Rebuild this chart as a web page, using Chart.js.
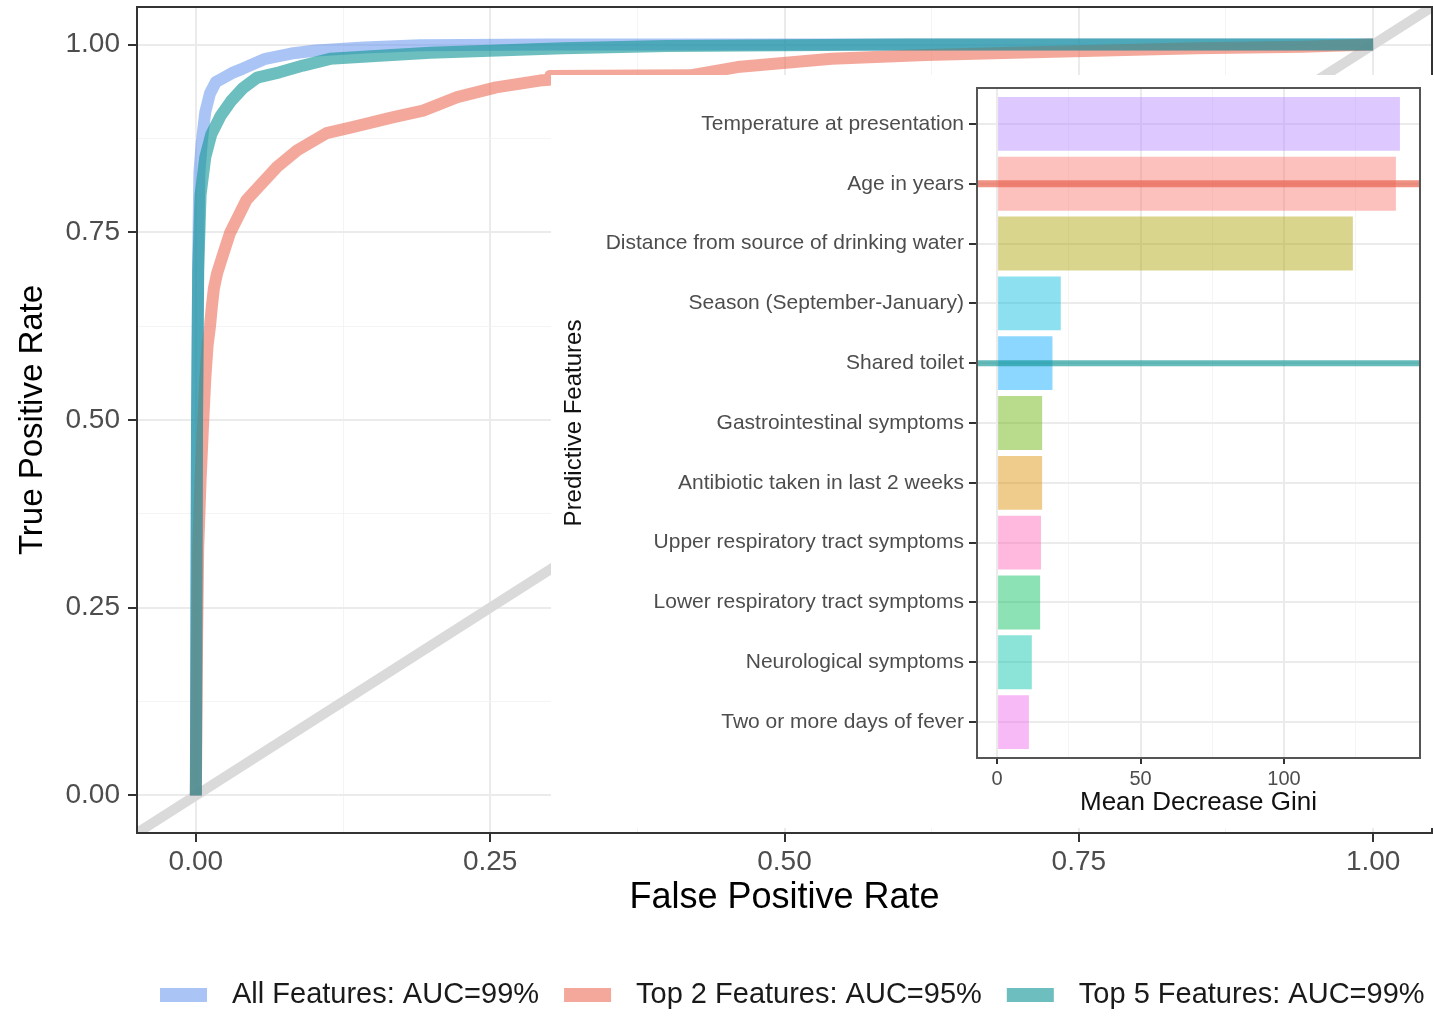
<!DOCTYPE html>
<html>
<head>
<meta charset="utf-8">
<script src="https://cdn.jsdelivr.net/npm/chart.js@4.4.1/dist/chart.umd.min.js"></script>
<style>
  html, body { margin: 0; padding: 0; background: #fff; }
  #wrap { position: relative; width: 1434px; height: 1016px; }
  #roc { position: absolute; left: 0; top: 0; }
  #gini { position: absolute; left: 551px; top: 75px; background: #fff; }
</style>
</head>
<body>
<div id="wrap">
  <canvas id="roc" width="1434" height="1016"></canvas>
  <canvas id="gini" width="883" height="753"></canvas>
</div>
<script>
const FONT = "'Liberation Sans', Arial, sans-serif";

// ROC curves
const allFpr = [0, 0.001, 0.002, 0.003, 0.005, 0.008, 0.012, 0.017, 0.024, 0.032, 0.040, 0.059, 0.081, 0.102, 0.143, 0.190, 0.300, 0.500, 1.000];
const allTpr = [0, 0.50, 0.72, 0.83, 0.87, 0.91, 0.935, 0.95, 0.956, 0.963, 0.968, 0.981, 0.988, 0.992, 0.996, 0.999, 1.0, 1.0, 1.0];

const top2Fpr = [0, 0.001, 0.002, 0.004, 0.006, 0.008, 0.010, 0.012, 0.0135, 0.0153, 0.018, 0.022, 0.029, 0.043, 0.069, 0.086, 0.111, 0.133, 0.167, 0.193, 0.222, 0.255, 0.292, 0.300, 0.301, 0.420, 0.460, 0.540, 0.620, 0.720, 0.850, 0.940, 1.000];
const top2Tpr = [0, 0.20, 0.33, 0.42, 0.49, 0.555, 0.60, 0.625, 0.65, 0.675, 0.695, 0.715, 0.749, 0.793, 0.837, 0.859, 0.882, 0.890, 0.903, 0.912, 0.930, 0.943, 0.952, 0.953, 0.958, 0.959, 0.970, 0.981, 0.986, 0.990, 0.995, 0.997, 1.000];

const top5Fpr = [0, 0.001, 0.002, 0.004, 0.008, 0.013, 0.021, 0.030, 0.040, 0.052, 0.071, 0.091, 0.114, 0.156, 0.199, 0.256, 0.312, 0.400, 0.600, 1.000];
const top5Tpr = [0, 0.50, 0.70, 0.80, 0.85, 0.88, 0.905, 0.925, 0.942, 0.956, 0.963, 0.972, 0.981, 0.985, 0.989, 0.992, 0.995, 0.998, 1.0, 1.0];

const chanceLine = [-0.05, 1.05];
const rateMajor = [0, 0.25, 0.5, 0.75, 1];
const rateMinor = [0.125, 0.375, 0.625, 0.875];

const curveLabels = ['All Features: AUC=99%', 'Top 2 Features: AUC=95%', 'Top 5 Features: AUC=99%'];

// variable importance inset
const features = [
  'Temperature at presentation',
  'Age in years',
  'Distance from source of drinking water',
  'Season (September-January)',
  'Shared toilet',
  'Gastrointestinal symptoms',
  'Antibiotic taken in last 2 weeks',
  'Upper respiratory tract symptoms',
  'Lower respiratory tract symptoms',
  'Neurological symptoms',
  'Two or more days of fever'
];
const giniValues = [140.4, 139.0, 124.0, 22.2, 19.3, 15.7, 15.7, 15.3, 15.0, 12.1, 11.1];
const giniMajor = [0, 50, 100];
const giniMinor = [25, 75, 125];
const stripeRows = ['Age in years', 'Shared toilet'];

const featureColors = ['#B385FF', '#F8766D', '#AEA200', '#00BADE', '#00A6FF', '#64B200',
  '#DB8E00', '#FF63B6', '#00BD5C', '#00C1A7', '#EF67EB'];

const toPoints = (xs, ys) => xs.map((x, i) => ({ x, y: ys[i] }));
const withAlpha = (hex, a) => {
  const n = parseInt(hex.slice(1), 16);
  return `rgba(${n >> 16},${(n >> 8) & 255},${n & 255},${a})`;
};
const inList = (list, v) => list.some(t => Math.abs(t - v) < 1e-9);
// fixed axis box, no extra label padding pushed onto the chart area
const fixSize = (w, h) => s => {
  if (w != null) s.width = w;
  if (h != null) s.height = h;
  s.paddingTop = s.paddingBottom = s.paddingLeft = s.paddingRight = 0;
};

const panelBorder = {
  id: 'panelBorder',
  afterDatasetsDraw(chart, args, opts) {
    const { ctx, chartArea: a } = chart;
    ctx.save();
    ctx.strokeStyle = opts.color;
    ctx.lineWidth = opts.width;
    ctx.strokeRect(a.left, a.top, a.right - a.left, a.bottom - a.top);
    ctx.restore();
  }
};

const bottomLegend = {
  id: 'bottomLegend',
  afterDraw(chart) {
    const { ctx } = chart;
    ctx.save();
    ctx.font = `29px ${FONT}`;
    ctx.textBaseline = 'middle';
    let x = 160;
    chart.data.datasets.filter(d => d.inLegend).forEach(d => {
      ctx.fillStyle = d.borderColor;
      ctx.fillRect(x, 988, 47, 14);
      x += 72;
      ctx.fillStyle = '#1a1a1a';
      ctx.fillText(d.label, x, 995);
      x += ctx.measureText(d.label).width + 25;
    });
    ctx.restore();
  }
};

const rateGrid = {
  color: c => c.tick && inList(rateMajor, c.tick.value) ? '#ebebeb' : '#f4f4f4',
  lineWidth: c => c.tick && inList(rateMajor, c.tick.value) ? 2 : 1,
  tickColor: c => c.tick && inList(rateMajor, c.tick.value) ? '#333' : 'rgba(0,0,0,0)',
  tickLength: 9, tickWidth: 2
};
const rateTicks = s => { s.ticks = rateMajor.concat(rateMinor).sort((a, b) => a - b).map(value => ({ value })); };

new Chart(document.getElementById('roc'), {
  type: 'line',
  data: {
    datasets: [
      { label: curveLabels[0], data: toPoints(allFpr, allTpr), borderColor: 'rgba(100,149,237,0.55)', borderWidth: 12, order: 2, inLegend: true },
      { label: curveLabels[1], data: toPoints(top2Fpr, top2Tpr), borderColor: 'rgba(235,110,88,0.6)', borderWidth: 12, order: 1, inLegend: true },
      { label: curveLabels[2], data: toPoints(top5Fpr, top5Tpr), borderColor: 'rgba(20,150,150,0.62)', borderWidth: 12, order: 0, inLegend: true },
      { label: 'chance', data: toPoints(chanceLine, chanceLine), borderColor: '#dadada', borderWidth: 10, order: 3, clip: 0 }
    ]
  },
  options: {
    responsive: false,
    animation: false,
    devicePixelRatio: 1,
    events: [],
    layout: { padding: { left: 0, top: 7, right: 2, bottom: 96 } },
    elements: {
      point: { radius: 0 },
      line: { tension: 0, borderCapStyle: 'butt', borderJoinStyle: 'round', fill: false }
    },
    plugins: {
      legend: { display: false },
      tooltip: { enabled: false },
      panelBorder: { color: '#333', width: 2 }
    },
    scales: {
      x: {
        type: 'linear', min: -0.05, max: 1.05,
        afterBuildTicks: rateTicks,
        afterFit: fixSize(null, 87),
        border: { display: false },
        grid: rateGrid,
        ticks: {
          autoSkip: false, maxRotation: 0, padding: 3, color: '#4d4d4d',
          font: { family: FONT, size: 28 },
          callback: v => inList(rateMajor, v) ? v.toFixed(2) : ''
        },
        title: { display: true, text: 'False Positive Rate', color: '#000', font: { family: FONT, size: 36 }, padding: { top: 0, bottom: 0 } }
      },
      y: {
        type: 'linear', min: -0.05, max: 1.05,
        afterBuildTicks: rateTicks,
        afterFit: fixSize(137, null),
        border: { display: false },
        grid: rateGrid,
        ticks: {
          autoSkip: false, padding: 8, color: '#4d4d4d',
          font: { family: FONT, size: 28 },
          callback: v => inList(rateMajor, v) ? v.toFixed(2) : ''
        },
        title: { display: true, text: 'True Positive Rate', color: '#000', font: { family: FONT, size: 33 }, padding: { top: 13, bottom: 0 } }
      }
    }
  },
  plugins: [panelBorder, bottomLegend]
});

const giniMin = -7, giniMax = 147.4;
const stripeColors = ['rgba(232,100,80,0.7)', 'rgba(20,150,150,0.65)'];

new Chart(document.getElementById('gini'), {
  type: 'bar',
  data: {
    datasets: [
      ...stripeRows.map((row, k) => ({
        type: 'line',
        data: [{ x: giniMin, y: features.indexOf(row) }, { x: giniMax, y: features.indexOf(row) }],
        borderColor: stripeColors[k],
        borderWidth: k === 0 ? 7 : 6,
        pointRadius: 0,
        order: 0
      })),
      {
        type: 'bar',
        indexAxis: 'y',
        data: features.map((f, i) => ({ x: giniValues[i], y: i })),
        backgroundColor: featureColors.map(c => withAlpha(c, 0.45)),
        barPercentage: 0.9,
        categoryPercentage: 1,
        order: 1
      }
    ]
  },
  options: {
    indexAxis: 'y',
    responsive: false,
    animation: false,
    devicePixelRatio: 1,
    events: [],
    layout: { padding: { left: 0, top: 13, right: 14, bottom: 0 } },
    plugins: {
      legend: { display: false },
      tooltip: { enabled: false },
      panelBorder: { color: '#555', width: 2 }
    },
    scales: {
      x: {
        type: 'linear', axis: 'x', position: 'bottom', min: giniMin, max: giniMax,
        afterBuildTicks: s => { s.ticks = giniMajor.concat(giniMinor).sort((a, b) => a - b).map(value => ({ value })); },
        afterFit: fixSize(null, 70),
        border: { display: false },
        grid: {
          color: c => c.tick && inList(giniMajor, c.tick.value) ? '#ebebeb' : '#f4f4f4',
          lineWidth: c => c.tick && inList(giniMajor, c.tick.value) ? 2 : 1,
          tickColor: c => c.tick && inList(giniMajor, c.tick.value) ? '#333' : 'rgba(0,0,0,0)',
          tickLength: 6, tickWidth: 2
        },
        ticks: {
          autoSkip: false, maxRotation: 0, padding: 3, color: '#4d4d4d',
          font: { family: FONT, size: 20 },
          callback: v => inList(giniMajor, v) ? String(v) : ''
        },
        title: { display: true, text: 'Mean Decrease Gini', color: '#111', font: { family: FONT, size: 26 }, padding: { top: 0, bottom: 10 } }
      },
      y: {
        type: 'linear', axis: 'y', position: 'left', min: -0.6, max: 10.6, reverse: true,
        offset: false,
        afterBuildTicks: s => { s.ticks = features.map((f, i) => ({ value: i })); },
        afterFit: fixSize(426, null),
        border: { display: false },
        grid: { offset: false, color: '#ebebeb', lineWidth: 2, tickColor: '#333', tickLength: 8, tickWidth: 2 },
        ticks: {
          autoSkip: false, padding: 5, color: '#4d4d4d',
          font: { family: FONT, size: 21 },
          callback: v => features[v] ?? ''
        },
        title: { display: true, text: 'Predictive Features', color: '#111', font: { family: FONT, size: 24 }, padding: { top: 9, bottom: 0 } }
      }
    }
  },
  plugins: [panelBorder]
});
</script>
</body>
</html>
